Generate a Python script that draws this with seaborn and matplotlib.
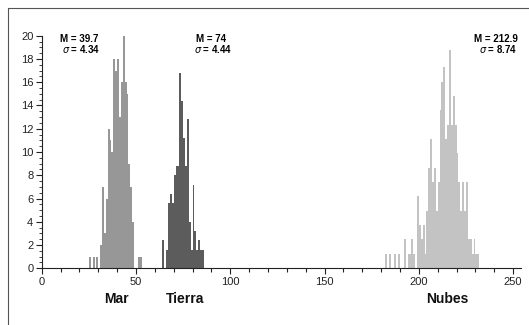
import numpy as np
import pandas as pd
import matplotlib
matplotlib.use("Agg")
import matplotlib.pyplot as plt
from matplotlib.lines import Line2D
from matplotlib.ticker import MultipleLocator
import seaborn as sns

# ---- data (bin start, height) ----
mar_bins = list(range(25, 53))
mar_vals = [1, 0, 1, 0, 1, 0, 2, 7, 3, 6, 12, 11, 10, 18, 17, 18, 13, 16, 20, 16,
            15, 9, 7, 4, 0, 0, 1, 1]

tierra_bins = list(range(64, 86))
tierra_vals = [2.4, 0, 1.6, 5.6, 6.4, 5.6, 8.0, 8.8, 8.8, 16.8, 14.4, 11.2, 8.8,
               12.8, 4.0, 1.6, 7.2, 3.2, 1.6, 2.4, 1.6, 1.6]

nubes_bins = list(range(182, 232))
nubes_vals = [1.2, 0, 1.2, 0, 0, 1.2, 0, 1.2, 0, 0, 2.5, 0, 1.2, 1.2, 2.5, 1.2, 0,
              6.2, 3.7, 2.5, 3.7, 1.2, 4.9, 8.6, 11.1, 7.4, 8.6, 4.9, 7.4, 13.6,
              16.0, 17.3, 11.1, 12.3, 18.8, 12.3, 14.8, 12.3, 9.9, 7.4, 4.9, 7.4,
              4.9, 7.4, 2.5, 2.5, 1.2, 2.5, 1.2, 1.2]

series_names = ["Mar", "Tierra", "Nubes"]
series_colors = ["#979797", "#5c5c5c", "#c3c3c3"]
stat_m = ["39.7", "74", "212.9"]
stat_s = ["4.34", "4.44", "8.74"]
stat_x = [20, 90, 241]
label_x = [39.5, 76, 215]

x_ticks = [0, 50, 100, 150, 200, 250]
y_ticks = list(range(0, 21, 2))

sns.set_style("white")
plt.rcParams["font.family"] = ["Liberation Sans", "DejaVu Sans"]

fig = plt.figure(figsize=(5.29, 3.25), dpi=100)
ax = fig.add_axes([41.7 / 529, 56.7 / 325, 479 / 529, 232.6 / 325])

all_bins = [mar_bins, tierra_bins, nubes_bins]
all_vals = [mar_vals, tierra_vals, nubes_vals]
for b, v, c in zip(all_bins, all_vals, series_colors):
    df = pd.DataFrame({"x": np.array(b, dtype=float) + 0.5, "w": v})
    sns.histplot(data=df, x="x", weights="w", binwidth=1,
                 binrange=(b[0], b[-1] + 1), color=c, alpha=1,
                 linewidth=0, ax=ax)

ax.set_xlim(0, 254)
ax.set_ylim(0, 20)
ax.set_xlabel("")
ax.set_ylabel("")
ax.set_xticks(x_ticks)
ax.set_yticks(y_ticks)
ax.xaxis.set_minor_locator(MultipleLocator(10))
ax.yaxis.set_minor_locator(MultipleLocator(0.5))
for s in ["top", "right"]:
    ax.spines[s].set_visible(False)
for s in ["left", "bottom"]:
    ax.spines[s].set_color("#222222")
    ax.spines[s].set_linewidth(0.8)
ax.tick_params(axis="both", which="major", direction="out", length=4, width=0.8,
               color="#222222", labelsize=8, labelcolor="#222222", pad=2,
               bottom=True, left=True)
ax.tick_params(axis="x", which="minor", direction="out", length=3, width=0.8,
               color="#222222", bottom=True)
ax.tick_params(axis="y", which="minor", direction="out", length=2, width=0.6,
               color="#222222", left=True)
ax.grid(False)

for xm, m, s in zip(stat_x, stat_m, stat_s):
    ax.text(xm, 19.7, f"M = {m}", ha="center", va="center", fontsize=7,
            fontweight="bold", color="black")
    ax.text(xm + 1, 18.85, r"$\sigma$" + f" = {s}", ha="center", va="center",
            fontsize=7, fontweight="bold", color="black")

trans = matplotlib.transforms.blended_transform_factory(ax.transData, fig.transFigure)
for lx, name in zip(label_x, series_names):
    ax.text(lx, 1 - 299 / 325, name, transform=trans, ha="center", va="center",
            fontsize=10, fontweight="bold", color="#111111")

# outer frame (top and left)
fig.add_artist(Line2D([8 / 529, 1], [1 - 8 / 325, 1 - 8 / 325],
                      transform=fig.transFigure, color="#555555", lw=0.8))
fig.add_artist(Line2D([8 / 529, 8 / 529], [0, 1 - 8 / 325],
                      transform=fig.transFigure, color="#555555", lw=0.8))

fig.savefig("out.png", dpi=100)
